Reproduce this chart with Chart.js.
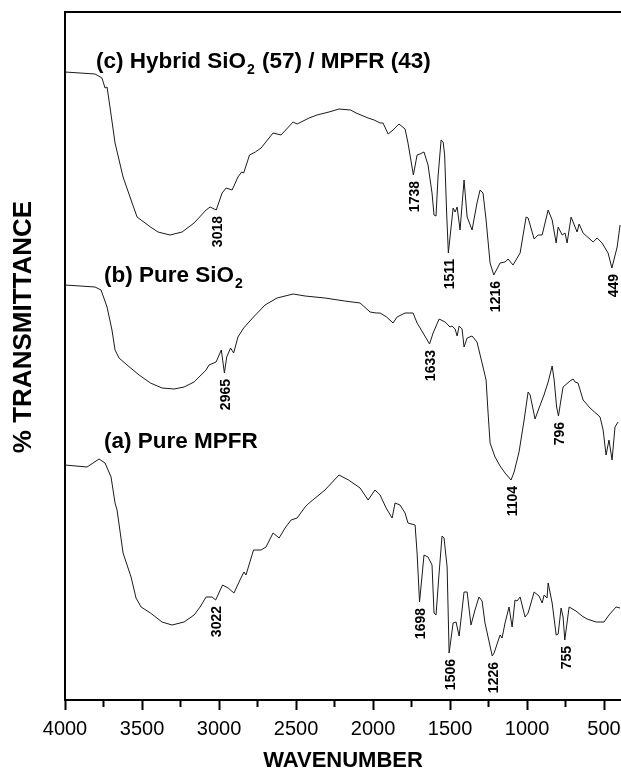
<!DOCTYPE html>
<html>
<head>
<meta charset="utf-8">
<script src="https://cdn.jsdelivr.net/npm/chart.js@4.4.1/dist/chart.umd.min.js"></script>
<style>
  body { margin: 0; background: #fff; overflow: hidden; }
  canvas { display: block; }
</style>
</head>
<body>
<canvas id="graficoFTIR" width="621" height="777"></canvas>
<script>
// ======================================================
// 1. DATA
// ======================================================

// (c) Hybrid SiO2 (57) / MPFR (43)
const wnC = [4000, 3805, 3760, 3740, 3727, 3708, 3675, 3623, 3571, 3532, 3445, 3396, 3318, 3240, 3162, 3084, 3058, 3018, 2980, 2954,
  2915, 2877, 2853, 2840, 2802, 2764, 2727, 2649, 2597, 2519, 2493, 2415, 2364, 2286, 2221, 2146, 2110, 2032, 1993, 1954,
  1935, 1902, 1870, 1831, 1792, 1773, 1738, 1714, 1695, 1669, 1643, 1617, 1604, 1591, 1578, 1558, 1545, 1535, 1522, 1511,
  1480, 1467, 1454, 1435, 1409, 1389, 1357, 1325, 1305, 1286, 1266, 1240, 1216, 1175, 1143, 1123, 1091, 1045, 1006, 993,
  954, 928, 902, 863, 837, 811, 798, 772, 753, 740, 714, 675, 662, 636, 571, 545, 513, 474, 449, 415, 396];
const tC = [62.8, 62.6, 62.2, 61.2, 61.3, 59.3, 55.7, 52.3, 50.0, 48.3, 47.3, 46.8, 46.5, 46.8, 47.7, 49.0, 49.3, 49.0, 50.7, 51.2,
  51.0, 52.3, 52.8, 52.7, 54.5, 54.8, 55.2, 56.7, 56.5, 57.8, 57.6, 58.2, 58.5, 58.8, 59.1, 59.0, 58.7, 58.2, 58.0, 57.7,
  57.7, 56.6, 57.0, 57.6, 57.1, 55.7, 52.5, 54.5, 54.6, 54.8, 53.5, 50.7, 48.5, 48.4, 52.3, 56.0, 55.8, 54.5, 48.7, 44.7,
  49.2, 48.8, 49.3, 47.0, 52.0, 48.3, 47.0, 49.7, 51.0, 50.7, 48.0, 43.7, 42.5, 43.7, 43.8, 44.1, 43.5, 44.7, 48.3, 48.2,
  46.1, 46.5, 46.5, 49.0, 48.0, 45.7, 47.3, 46.5, 46.7, 45.7, 48.3, 46.8, 47.6, 46.7, 45.8, 46.2, 45.7, 44.7, 43.2, 45.3, 47.5];

// (b) Pure SiO2
const wnB = [4000, 3805, 3766, 3727, 3695, 3675, 3649, 3597, 3519, 3445, 3370, 3292, 3227, 3162, 3084, 3065, 3019, 2985, 2965, 2950,
  2925, 2905, 2877, 2840, 2776, 2701, 2623, 2519, 2441, 2312, 2184, 2084, 2019, 1980, 1954, 1912, 1870, 1844, 1792, 1740,
  1714, 1675, 1633, 1610, 1571, 1532, 1500, 1487, 1467, 1454, 1441, 1422, 1409, 1389, 1357, 1325, 1292, 1266, 1253, 1240,
  1208, 1175, 1143, 1104, 1084, 1052, 1019, 993, 980, 948, 922, 890, 863, 837, 824, 808, 796, 780, 766, 721,
  701, 688, 669, 636, 591, 526, 506, 487, 468, 448, 429, 409];
const tB = [41.5, 41.3, 41.0, 39.3, 37.0, 35.0, 34.2, 33.5, 32.5, 31.7, 31.2, 31.1, 31.3, 31.8, 33.0, 33.5, 33.8, 35.0, 32.7, 34.3,
  35.2, 34.7, 36.3, 37.2, 38.3, 39.5, 40.2, 40.6, 40.4, 40.2, 39.9, 39.7, 38.8, 38.7, 38.7, 38.3, 37.7, 38.3, 38.7, 38.7,
  37.7, 36.7, 35.6, 36.7, 38.1, 37.8, 37.3, 37.4, 37.1, 36.4, 37.4, 37.1, 35.3, 36.2, 36.4, 35.8, 33.7, 32.0, 28.7, 25.7,
  24.3, 23.4, 22.7, 22.0, 22.8, 24.8, 28.0, 30.8, 30.5, 28.1, 29.2, 30.5, 31.8, 33.4, 32.0, 29.3, 28.4, 30.0, 31.3, 31.9,
  32.1, 31.8, 31.7, 30.0, 29.2, 28.3, 27.0, 24.5, 26.0, 24.0, 27.3, 27.8];

// (a) Pure MPFR
const wnA = [4000, 3857, 3779, 3740, 3701, 3675, 3662, 3623, 3571, 3539, 3506, 3445, 3370, 3305, 3227, 3162, 3123, 3084, 3045, 3022,
  2977, 2941, 2903, 2864, 2838, 2825, 2776, 2727, 2695, 2649, 2610, 2571, 2532, 2493, 2441, 2415, 2312, 2221, 2159, 2084,
  2032, 1987, 1954, 1915, 1876, 1857, 1825, 1792, 1773, 1727, 1714, 1698, 1669, 1643, 1617, 1604, 1591, 1571, 1552, 1539,
  1519, 1506, 1480, 1461, 1441, 1409, 1389, 1364, 1338, 1312, 1292, 1273, 1226, 1214, 1175, 1162, 1143, 1117, 1097, 1078,
  1065, 1045, 1013, 993, 954, 922, 902, 889, 870, 863, 837, 811, 798, 779, 766, 755, 727, 682, 643, 610,
  552, 500, 468, 422, 396];
const tA = [23.5, 23.3, 24.1, 23.7, 22.3, 19.7, 19.0, 14.7, 12.3, 10.2, 9.3, 8.7, 7.8, 7.5, 7.8, 8.5, 9.3, 10.3, 10.3, 10.0,
  11.5, 11.2, 10.7, 12.0, 12.8, 12.5, 15.0, 15.0, 15.3, 16.7, 16.2, 17.2, 18.0, 18.2, 19.3, 19.7, 21.0, 22.5, 22.0, 21.2,
  20.0, 21.0, 20.5, 19.2, 18.2, 19.7, 19.5, 18.7, 17.7, 17.5, 14.7, 9.8, 14.5, 14.3, 13.5, 8.7, 8.5, 12.7, 16.4, 16.2,
  13.3, 4.7, 7.7, 7.8, 6.4, 10.8, 10.8, 7.5, 9.0, 10.3, 9.9, 7.7, 4.4, 4.7, 6.5, 6.2, 7.7, 9.3, 7.3, 10.0,
  9.9, 10.3, 8.3, 8.7, 10.8, 10.4, 9.7, 10.5, 10.2, 11.7, 9.7, 6.5, 6.6, 9.2, 8.3, 6.0, 9.3, 8.9, 8.4, 8.1,
  7.8, 7.8, 8.5, 9.3, 9.2];

// peak labels of each spectrum
const picosC = [3018, 1738, 1511, 1216, 449];
const picosB = [2965, 1633, 1104, 796];
const picosA = [3022, 1698, 1506, 1226, 755];

// spectrum names: [text, subscript, rest] + anchor (wavenumber, transmittance)
const nomes = [
  { partes: ['(c) Hybrid SiO', '2', ' (57) / MPFR (43)'], wn: 3799, t: 63.2 },
  { partes: ['(b) Pure SiO', '2', ''], wn: 3747, t: 41.8 },
  { partes: ['(a) Pure MPFR', '', ''], wn: 3747, t: 25.2 }
];

// x axis: ticks every 250, labelled every 500
const xTickValues = [500, 750, 1000, 1250, 1500, 1750, 2000, 2250, 2500, 2750, 3000, 3250, 3500, 3750, 4000];
const xTickLabels = ['500', '', '1000', '', '1500', '', '2000', '', '2500', '', '3000', '', '3500', '', '4000'];
const xMin = 390, xMax = 4000;

// ======================================================
// 2. HELPERS
// ======================================================

const FONTE = "'Liberation Sans', Arial, sans-serif";

function pares(wn, t) {
  return wn.map((w, i) => ({ x: w, y: t[i] }));
}

const series = [
  { wn: wnC, t: tC, picos: picosC },
  { wn: wnB, t: tB, picos: picosB },
  { wn: wnA, t: tA, picos: picosA }
];

// draws the names, the peak labels, the y title and the top frame line
const pluginTextos = {
  id: 'textos',
  afterDraw(chart) {
    const { ctx, chartArea, scales } = chart;
    const xs = scales.x, ys = scales.y;
    ctx.save();

    // top border of the frame
    ctx.strokeStyle = '#000';
    ctx.lineWidth = 2;
    ctx.beginPath();
    ctx.moveTo(chartArea.left - 1, chartArea.top);
    ctx.lineTo(chartArea.right + 2, chartArea.top);
    ctx.stroke();

    ctx.fillStyle = '#000';

    // spectrum names
    nomes.forEach(n => {
      let x = xs.getPixelForValue(n.wn);
      const y = ys.getPixelForValue(n.t);
      ctx.textBaseline = 'alphabetic';
      ctx.textAlign = 'left';
      ctx.font = 'bold 22.5px ' + FONTE;
      ctx.fillText(n.partes[0], x, y);
      x += ctx.measureText(n.partes[0]).width;
      if (n.partes[1]) {
        ctx.font = 'bold 14px ' + FONTE;
        ctx.fillText(n.partes[1], x + 1, y + 6);
        x += ctx.measureText(n.partes[1]).width + 2;
      }
      if (n.partes[2]) {
        ctx.font = 'bold 22.5px ' + FONTE;
        ctx.fillText(n.partes[2], x, y);
      }
    });

    // peak labels, vertical, just below each band
    ctx.font = 'bold 14px ' + FONTE;
    series.forEach(s => {
      s.picos.forEach(p => {
        const i = s.wn.indexOf(p);
        if (i < 0) return;
        const x = xs.getPixelForValue(p) + 2;
        const y = ys.getPixelForValue(s.t[i]) + 6;
        ctx.save();
        ctx.translate(x, y);
        ctx.rotate(-Math.PI / 2);
        ctx.textAlign = 'right';
        ctx.textBaseline = 'middle';
        ctx.fillText(String(p), 0, 0);
        ctx.restore();
      });
    });

    // y axis title
    ctx.save();
    ctx.font = 'bold 26px ' + FONTE;
    ctx.translate(24, 327);
    ctx.rotate(-Math.PI / 2);
    ctx.textAlign = 'center';
    ctx.textBaseline = 'middle';
    ctx.fillText('% TRANSMITTANCE', 0, 0);
    ctx.restore();

    ctx.restore();
  }
};

// ======================================================
// 3. CHART
// ======================================================

function montarGrafico() {
  const ctx = document.getElementById('graficoFTIR');
  if (!ctx) return;

  Chart.defaults.font.family = FONTE;
  Chart.defaults.color = '#000';

  new Chart(ctx, {
    type: 'line',
    data: {
      datasets: series.map(s => ({
        data: pares(s.wn, s.t),
        borderColor: '#1a1a1a',
        borderWidth: 1,
        pointRadius: 0,
        tension: 0,
        fill: false
      }))
    },
    options: {
      responsive: false,
      animation: false,
      layout: { padding: { top: 12, right: 0, bottom: 0, left: 0 } },
      plugins: { legend: { display: false }, tooltip: { enabled: false } },
      scales: {
        x: {
          type: 'linear',
          reverse: true,
          min: xMin,
          max: xMax,
          afterBuildTicks: (scale) => {
            scale.ticks = xTickValues.map(v => ({ value: v }));
          },
          afterFit: (scale) => {
            scale.height = 77;
            scale.paddingLeft = 0;
            scale.paddingRight = 0;
          },
          ticks: {
            autoSkip: false,
            maxRotation: 0,
            padding: 7,
            font: { size: 20 },
            color: '#000',
            callback: (v) => xTickLabels[xTickValues.indexOf(v)] || ''
          },
          grid: {
            drawOnChartArea: false,
            drawTicks: true,
            tickLength: 10,
            tickWidth: 2,
            tickColor: '#000',
            tickBorderDash: (c) => (c.tick && xTickLabels[xTickValues.indexOf(c.tick.value)] === '' ? [6, 20] : [])
          },
          border: { display: true, color: '#000', width: 2 },
          title: {
            display: true,
            text: 'WAVENUMBER',
            font: { size: 22, weight: 'bold' },
            color: '#000',
            padding: { top: 4, bottom: 3 }
          }
        },
        y: {
          min: 0,
          max: 68.8,
          afterFit: (scale) => { scale.width = 65; },
          ticks: { display: false },
          grid: { display: false },
          border: { display: true, color: '#000', width: 2 }
        }
      }
    },
    plugins: [pluginTextos]
  });
}

montarGrafico();
</script>
</body>
</html>
